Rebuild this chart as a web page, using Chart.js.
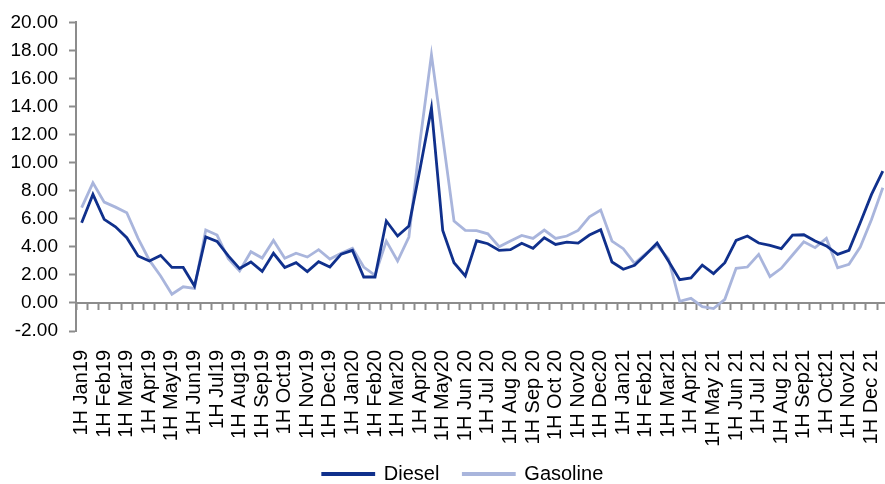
<!DOCTYPE html>
<html><head><meta charset="utf-8">
<style>
html,body{margin:0;padding:0;overflow:hidden;background:#fff;width:885px;height:484px}
#wrap{position:absolute;left:0;top:0;width:918px;height:507px}
</style>
<script src="https://cdn.jsdelivr.net/npm/chart.js@4.4.1/dist/chart.umd.min.js"></script>
</head><body><div id="wrap"><canvas id="c" width="918" height="507"></canvas></div>
<script>
const tickLabels = ["1H Jan19","1H Feb19","1H Mar19","1H Apr19","1H May19","1H Jun19","1H Jul19","1H Aug19","1H Sep19","1H Oct19","1H Nov19","1H Dec19",
  "1H Jan20","1H Feb20","1H Mar20","1H Apr20","1H May20","1H Jun 20","1H Jul 20","1H Aug 20","1H Sep 20","1H Oct 20","1H Nov20","1H Dec20",
  "1H Jan21","1H Feb21","1H Mar21","1H Apr21","1H May 21","1H Jun 21","1H Jul 21","1H Aug 21","1H Sep21","1H Oct21","1H Nov21","1H Dec 21"];
const categories = tickLabels.flatMap(l => [l, l.replace("1H", "2H")]);

const diesel = [5.72,7.74,5.96,5.43,4.65,3.35,2.99,3.39,2.53,2.53,1.21,4.70,
  4.38,3.35,2.45,2.92,2.25,3.54,2.53,2.87,2.23,2.94,2.56,3.48,
  3.75,1.85,1.85,5.84,4.77,5.48,9.60,13.90,5.17,2.87,1.92,4.43,
  4.22,3.75,3.80,4.25,3.89,4.65,4.17,4.34,4.27,4.84,5.22,2.92,
  2.40,2.68,3.46,4.27,2.99,1.66,1.78,2.70,2.09,2.87,4.46,4.77,
  4.27,4.10,3.87,4.84,4.86,4.41,4.06,3.46,3.75,5.72,7.74,9.40];

const gasoline = [6.79,8.56,7.19,6.83,6.43,4.60,3.05,1.92,0.62,1.15,1.03,5.20,
  4.84,3.15,2.28,3.65,3.20,4.46,3.18,3.54,3.27,3.80,3.13,3.55,
  3.89,2.56,1.97,4.41,2.99,4.70,11.60,17.70,11.80,5.84,5.17,5.15,
  4.93,4.01,4.41,4.81,4.60,5.20,4.60,4.77,5.17,6.14,6.62,4.41,
  3.87,2.82,3.51,4.10,3.15,0.12,0.33,-0.26,-0.40,0.26,2.47,2.56,
  3.46,1.87,2.47,3.42,4.36,3.94,4.60,2.51,2.75,3.98,5.95,8.21];

const FONT = "'Liberation Sans', Arial, sans-serif";
const AXIS = '#8c8c8c';

const legendShift = {
  id: 'legendShift',
  afterLayout(chart) {
    const lg = chart.legend;
    if (!lg) return;
    lg.left += 18; lg.right += 18;
    lg.top -= 13; lg.bottom -= 13;
  }
};

new Chart(document.getElementById('c'), {
  type: 'line',
  data: {
    labels: categories,
    datasets: [
      { label: 'Diesel', data: diesel, borderColor: '#10308C', backgroundColor: '#10308C',
        borderWidth: 2.8, pointRadius: 0, tension: 0 },
      { label: 'Gasoline', data: gasoline, borderColor: '#A9B5DC', backgroundColor: '#A9B5DC',
        borderWidth: 2.8, pointRadius: 0, tension: 0 }
    ]
  },
  plugins: [legendShift],
  options: {
    responsive: false,
    animation: false,
    devicePixelRatio: 1,
    layout: { padding: { top: 21, right: 28, left: 0, bottom: 0 } },
    plugins: {
      legend: {
        position: 'bottom',
        labels: { boxWidth: 51, boxHeight: 1, padding: 24, color: '#000',
          font: { size: 20, family: FONT } }
      },
      tooltip: { enabled: false }
    },
    scales: {
      x: {
        type: 'category', offset: true,
        grid: { display: false }, border: { display: false },
        ticks: { autoSkip: false, maxRotation: 90, minRotation: 90, padding: 11, color: '#000',
          font: { size: 20, family: FONT },
          callback: (v, i) => (i % 2 === 0 ? tickLabels[i / 2] : '') },
        afterFit: s => { s.height = 122; }
      },
      x2: {
        type: 'category', axis: 'x', labels: categories, offset: true, position: { y: 0 },
        grid: { display: true, offset: true, drawOnChartArea: false, drawTicks: true,
          tickLength: 6, tickColor: AXIS, tickWidth: 2 },
        border: { display: true, color: AXIS, width: 2 },
        ticks: { display: false, autoSkip: false }
      },
      y: {
        min: -2, max: 20,
        ticks: { stepSize: 2, color: '#000', padding: 11, font: { size: 19, family: FONT },
          callback: v => Number(v).toFixed(2) },
        grid: { display: true, drawOnChartArea: false, drawTicks: true, tickLength: 7,
          tickColor: AXIS, tickWidth: 2 },
        border: { display: true, color: AXIS, width: 2 },
        afterFit: s => { s.width = 76; }
      }
    }
  }
});
</script>
</body></html>
